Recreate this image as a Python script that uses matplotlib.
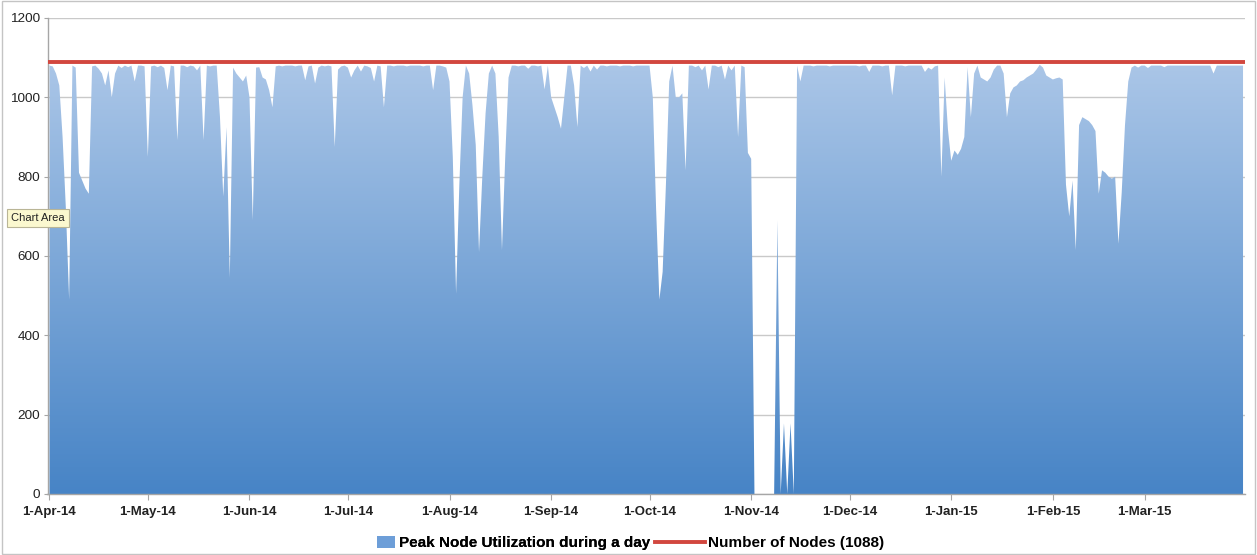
import numpy as np
import pandas as pd
import matplotlib
matplotlib.use("Agg")
import matplotlib.pyplot as plt
import matplotlib.dates as mdates
from matplotlib.colors import LinearSegmentedColormap
from matplotlib.patches import Patch, Rectangle
from matplotlib.lines import Line2D

# Daily peak node utilization, one list per month (1 Apr 2014 - 31 Mar 2015)
apr_14 = [1080, 1078, 1060, 1030, 900, 720, 490, 1080, 1075, 810,
          790, 770, 757, 1078, 1080, 1072, 1060, 1030, 1068, 1000,
          1060, 1080, 1074, 1080, 1076, 1080, 1040, 1080, 1080, 1078]
may_14 = [850, 1078, 1080, 1076, 1080, 1074, 1018, 1080, 1078, 892,
          1080, 1080, 1076, 1080, 1078, 1068, 1080, 892, 1080, 1078,
          1080, 1080, 950, 750, 925, 545, 1075, 1060, 1050, 1040, 1055]
jun_14 = [1000, 690, 1075, 1076, 1050, 1045, 1018, 975, 1078, 1080,
          1078, 1080, 1080, 1080, 1078, 1080, 1080, 1043, 1078, 1080,
          1035, 1075, 1080, 1078, 1080, 1078, 875, 1070, 1078, 1080]
jul_14 = [1075, 1050, 1068, 1080, 1065, 1080, 1078, 1074, 1040, 1080,
          1078, 975, 1080, 1080, 1078, 1080, 1080, 1080, 1078, 1080,
          1080, 1080, 1080, 1078, 1080, 1080, 1018, 1080, 1080, 1078, 1075]
aug_14 = [1040, 850, 505, 780, 1000, 1080, 1060, 980, 880, 610,
          800, 960, 1060, 1080, 1060, 900, 615, 850, 1050, 1080,
          1080, 1078, 1080, 1080, 1072, 1080, 1080, 1078, 1080, 1020, 1080]
sep_14 = [1000, 975, 950, 921, 1000, 1080, 1080, 1030, 925, 1080,
          1074, 1080, 1065, 1080, 1070, 1080, 1080, 1078, 1080, 1080,
          1080, 1078, 1080, 1080, 1080, 1078, 1080, 1080, 1080, 1080]
oct_14 = [1080, 1000, 720, 490, 560, 780, 1040, 1080, 1000, 1000,
          1010, 816, 1080, 1080, 1076, 1080, 1068, 1080, 1020, 1080,
          1080, 1076, 1080, 1045, 1080, 1068, 1080, 900, 1080, 1076, 860]
nov_14 = [845, 0, 0, 0, 0, 0, 0, 0, 690, 0,
          178, 0, 178, 0, 1080, 1040, 1080, 1080, 1080, 1078,
          1080, 1080, 1080, 1080, 1078, 1080, 1080, 1080, 1080, 1080]
dec_14 = [1080, 1080, 1080, 1078, 1080, 1080, 1064, 1080, 1080, 1080,
          1078, 1080, 1080, 1005, 1080, 1080, 1080, 1078, 1080, 1080,
          1080, 1080, 1080, 1064, 1075, 1070, 1078, 1080, 800, 1050, 920]
jan_15 = [840, 866, 855, 870, 900, 1076, 950, 1060, 1080, 1050,
          1045, 1040, 1050, 1070, 1080, 1080, 1060, 950, 1010, 1025,
          1030, 1040, 1043, 1050, 1055, 1060, 1070, 1082, 1075, 1055, 1050]
feb_15 = [1045, 1048, 1050, 1045, 780, 700, 790, 615, 930, 950,
          945, 940, 930, 915, 757, 816, 810, 800, 795, 800,
          631, 760, 930, 1040, 1075, 1080, 1075, 1080]
mar_15 = [1080, 1074, 1080, 1080, 1080, 1080, 1076, 1080, 1080, 1080,
          1080, 1080, 1080, 1080, 1080, 1080, 1080, 1080, 1080, 1080,
          1080, 1060, 1080, 1080, 1080, 1080, 1080, 1080, 1080, 1080, 1080]

node_count = 1088

tick_labels = ["1-Apr-14", "1-May-14", "1-Jun-14", "1-Jul-14", "1-Aug-14",
               "1-Sep-14", "1-Oct-14", "1-Nov-14", "1-Dec-14", "1-Jan-15",
               "1-Feb-15", "1-Mar-15"]
y_ticks = [0, 200, 400, 600, 800, 1000, 1200]

series_label = "Peak Node Utilization during a day"
nodes_label = f"Number of Nodes ({node_count})"

util = np.array(apr_14 + may_14 + jun_14 + jul_14 + aug_14 + sep_14 +
                oct_14 + nov_14 + dec_14 + jan_15 + feb_15 + mar_15, dtype=float)
dates = pd.date_range("2014-04-01", periods=len(util), freq="D")
xd = mdates.date2num(dates)
month_starts = mdates.date2num(pd.date_range("2014-04-01", periods=len(tick_labels), freq="MS"))

plt.rcParams["font.family"] = ["Liberation Sans", "DejaVu Sans"]

W, H = 1257, 555
fig = plt.figure(figsize=(W / 100, H / 100), dpi=100)
ax = fig.add_axes([47.5 / W, 1 - 494 / H, (1245 - 47.5) / W, (494 - 18) / H])

x0, x1 = xd[0] - 0.6, xd[-1] + 0.6
ax.set_xlim(x0, x1)
ax.set_ylim(0, 1200)

# Area with a vertical gradient, clipped to the filled region
area = ax.fill_between(xd, 0, util, facecolor="none", edgecolor="none", lw=0)
grad_cmap = LinearSegmentedColormap.from_list("blues", ["#4784c6", "#b5cdeb"])
grad = np.linspace(0, 1, 256).reshape(-1, 1)
img = ax.imshow(grad, extent=[x0, x1, 0, 1200], origin="lower", aspect="auto",
                cmap=grad_cmap, zorder=1, interpolation="bilinear")
img.set_clip_path(area.get_paths()[0], transform=ax.transData)

ax.axhline(node_count, color="#d2473f", lw=2.8, zorder=3)

# Axes styling
ax.set_yticks(y_ticks)
ax.set_yticklabels([str(v) for v in y_ticks])
ax.yaxis.grid(True, color="#c9c9c9", lw=1.0)
ax.set_axisbelow(True)
ax.set_xticks(month_starts)
ax.set_xticklabels(tick_labels, fontweight="bold")
for s in ("top", "right"):
    ax.spines[s].set_visible(False)
for s in ("left", "bottom"):
    ax.spines[s].set_color("#a6a6a6")
    ax.spines[s].set_linewidth(1.0)
ax.tick_params(axis="y", labelsize=9.7, colors="#a6a6a6", labelcolor="#222222",
               length=3, pad=2.5)
ax.tick_params(axis="x", labelsize=9.5, colors="#a6a6a6", labelcolor="#222222",
               length=4, pad=4.5)

# Legend: two entries placed side by side below the plot
leg_y = 1 - 543 / H
leg_props = {"size": 11, "weight": "bold"}
leg1 = fig.legend([Patch(facecolor="#6d9ed8", edgecolor="none")], [series_label],
                  loc="center left", bbox_to_anchor=(377 / W, leg_y), frameon=False,
                  prop=leg_props, handlelength=1.2, handleheight=0.9,
                  handletextpad=0.25, borderpad=0, borderaxespad=0)
fig.legend([Line2D([0], [0], color="#d2473f", lw=2.8)], [nodes_label],
           loc="center left", bbox_to_anchor=(655 / W, leg_y), frameon=False,
           prop=leg_props, handlelength=3.3, handletextpad=0.2,
           borderpad=0, borderaxespad=0)
fig.add_artist(leg1)

# Hover tag at the left edge
fig.text(11 / W, 1 - 218 / H, "Chart Area", fontsize=8, color="#222222",
         va="center", ha="left",
         bbox=dict(boxstyle="square,pad=0.35", fc="#fbf8cf", ec="#b9b596", lw=0.8))

fig.patches.append(Rectangle((0.0015, 0.002), 0.997, 0.996, transform=fig.transFigure,
                             fill=False, ec="#c4c4c4", lw=1.0))

fig.savefig("out.png", dpi=100)
